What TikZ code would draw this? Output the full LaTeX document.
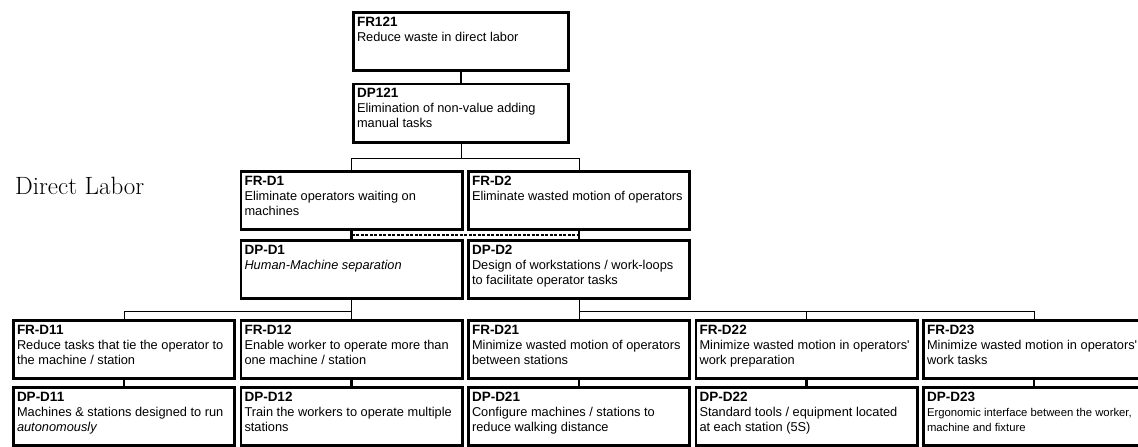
\documentclass[tikz,border=0pt]{standalone}
\usepackage{fontspec}
\usepackage{tikz}
\usetikzlibrary{calc}

\newfontfamily\arialfont{Liberation Sans}
% title + description inside a fixed size box
\newcommand{\reqtext}[3][214pt]{\parbox[t][49pt][t]{#1}{\raggedright\arialfont\fontsize{13.5}{15}\selectfont\textbf{#2}\\\fontsize{12.8}{15}\selectfont #3}}

\begin{document}
\begin{tikzpicture}[x=1pt, y=-1pt,
  req/.style={draw, line width=2.8pt, inner xsep=3.6pt, inner ysep=4.6pt},
  link/.style={line width=2.8pt},
  tree/.style={line width=1pt},
  coupling/.style={line width=1.2pt, dash pattern=on 3pt off 1.5pt}
]
\useasboundingbox (0,0) rectangle (1138,447);

\node[anchor=base west, inner sep=0pt, font=\fontsize{25}{28}\selectfont] (level) at (15,194) {Direct Labor};

% top level
\node[req] (fr121) at (461,41.5) {\reqtext[208pt]{FR121}{Reduce waste in direct labor}};
\node[req] (dp121) at (461,113) {\reqtext[208pt]{DP121}{Elimination of non-value adding\\manual tasks}};

% second level
\node[req] (frd1) at (351.5,200.5) {\reqtext{FR-D1}{Eliminate operators waiting on\\machines}};
\node[req] (frd2) at (579,200.5) {\reqtext{FR-D2}{Eliminate wasted motion of operators}};
\node[req] (dpd1) at (351.5,269.5) {\reqtext{DP-D1}{\textit{Human-Machine separation}}};
\node[req] (dpd2) at (579,269.5) {\reqtext{DP-D2}{Design of workstations / work-loops\\to facilitate operator tasks}};

% third level
\node[req] (frd11) at (124,349.5) {\reqtext{FR-D11}{Reduce tasks that tie the operator to\\the machine / station}};
\node[req] (frd12) at (351.5,349.5) {\reqtext{FR-D12}{Enable worker to operate more than\\one machine / station}};
\node[req] (frd21) at (579,349.5) {\reqtext{FR-D21}{Minimize wasted motion of operators\\between stations}};
\node[req] (frd22) at (806.5,349.5) {\reqtext{FR-D22}{Minimize wasted motion in operators'\\work preparation}};
\node[req] (frd23) at (1034,349.5) {\reqtext{FR-D23}{Minimize wasted motion in operators'\\work tasks}};

\node[req] (dpd11) at (124,416.5) {\reqtext{DP-D11}{Machines \& stations designed to run\\\textit{autonomously}}};
\node[req] (dpd12) at (351.5,416.5) {\reqtext{DP-D12}{Train the workers to operate multiple\\stations}};
\node[req] (dpd21) at (579,416.5) {\reqtext{DP-D21}{Configure machines / stations to\\reduce walking distance}};
\node[req] (dpd22) at (806.5,416.5) {\reqtext{DP-D22}{Standard tools / equipment located\\at each station (5S)}};
\node[req] (dpd23) at (1034,416.5) {\reqtext{DP-D23}{\fontsize{11.3}{15}\selectfont Ergonomic interface between the worker,\\machine and fixture}};

% FR -- DP pairs
\draw[link] (fr121) -- (dp121);
\draw[link] (frd1) -- (dpd1);
\draw[link] (frd2) -- (dpd2);
\draw[link] (frd11) -- (dpd11);
\draw[link] (frd12) -- (dpd12);
\draw[link] (frd21) -- (dpd21);
\draw[link] (frd22) -- (dpd22);
\draw[link] (frd23) -- (dpd23);

\draw[coupling] ($(frd1.south)!0.5!(dpd1.north)$) -- ($(frd2.south)!0.5!(dpd2.north)$);

% decomposition
\draw[tree] (dp121.south) -- ++(0,15) -| (frd1.north);
\draw[tree] (dp121.south) -- ++(0,15) -| (frd2.north);
\draw[tree] (dpd1.south) -- ++(0,11) -| (frd11.north);
\draw[tree] (dpd1.south) -- (frd12.north);
\draw[tree] (dpd2.south) -- (frd21.north);
\draw[tree] (dpd2.south) -- ++(0,11) -| (frd22.north);
\draw[tree] (dpd2.south) -- ++(0,11) -| (frd23.north);

\end{tikzpicture}
\end{document}
